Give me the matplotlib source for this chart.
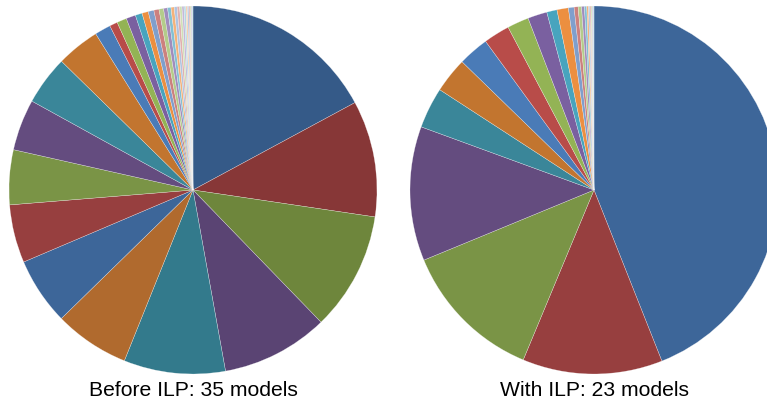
import matplotlib
matplotlib.use("Agg")
import matplotlib.pyplot as plt

# share of each model (percent), ordered clockwise from 12 o'clock
before_ilp = [17.1, 10.2, 10.4, 9.4, 8.9, 6.6, 5.9, 5.1, 4.8, 4.5, 4.3, 3.8,
              1.4, 0.7, 0.86, 0.83, 0.6, 0.55, 0.5, 0.45, 0.4, 0.35, 0.3, 0.28,
              0.25, 0.22, 0.2, 0.18, 0.16, 0.14, 0.12, 0.1, 0.1, 0.08, 0.08]
with_ilp = [44.0, 12.3, 12.5, 11.8, 3.6, 3.1, 2.7, 2.3, 1.9, 1.7, 0.9, 1.0,
            0.5, 0.35, 0.3, 0.25, 0.2, 0.15, 0.12, 0.1, 0.1, 0.08, 0.08]
titles = ["Before ILP: 35 models", "With ILP: 23 models"]

# office-style palette in progressively lighter shades
dark = ['#355a88', '#873737', '#6e863c', '#5a4473', '#337a8c', '#b06a2e']
mid = ['#3d6699', '#973f3f', '#7a9446', '#644c7f', '#3a8699', '#c2752f']
light = ['#4a7bb7', '#b84c49', '#93b355', '#7a60a0', '#48a4be', '#ec8f40']
pale = ['#7f9fcc', '#cc807e', '#b4cc8a', '#a08cbc', '#82c0d4', '#f4b27a']
paler = ['#b0c4e0', '#e0b0ae', '#d0e0b6', '#c4b8d8', '#b4d8e4', '#f8d0ac']


def shades(n, start):
    rounds = [dark, mid, light, pale, paler, paler]
    out = []
    for i in range(n):
        out.append(rounds[start + i // 6][i % 6] if start + i // 6 < 6 else paler[i % 6])
    return out


fig = plt.figure(figsize=(7.67, 4.04), dpi=100)
ax1 = fig.add_axes([9 / 767, 30 / 404, 368 / 767, 368 / 404])
ax2 = fig.add_axes([410 / 767, 30 / 404, 368 / 767, 368 / 404])

for ax, vals, start, title in [(ax1, before_ilp, 0, titles[0]), (ax2, with_ilp, 1, titles[1])]:
    ax.pie(vals, colors=shades(len(vals), start), startangle=90, counterclock=False,
           radius=1, wedgeprops=dict(linewidth=0.3, edgecolor='#ffffff90'))
    ax.set_xlim(-1, 1)
    ax.set_ylim(-1, 1)
    ax.set_aspect('equal')
    ax.axis('off')

fig.text(193 / 767, 1 - 390 / 404, titles[0], ha='center', va='center',
         fontsize=15.2, family='Liberation Sans')
fig.text(595 / 767, 1 - 390 / 404, titles[1], ha='center', va='center',
         fontsize=15.2, family='Liberation Sans')

fig.savefig("out.png", dpi=100)
